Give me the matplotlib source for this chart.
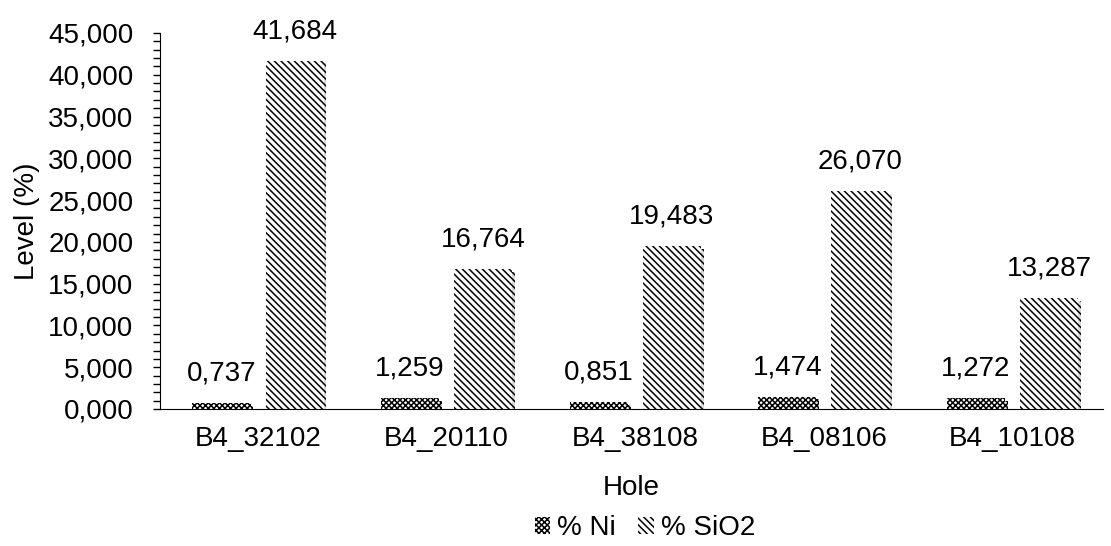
import matplotlib.pyplot as plt
import matplotlib.patheffects as pe
from matplotlib.patches import Patch
from matplotlib.ticker import FuncFormatter, MultipleLocator
import numpy as np

# grades per drill hole (percent)
holes = ['B4_32102', 'B4_20110', 'B4_38108', 'B4_08106', 'B4_10108']
ni = [0.737, 1.259, 0.851, 1.474, 1.272]
sio2 = [41.684, 16.764, 19.483, 26.070, 13.287]

plt.rcParams['font.family'] = ['Liberation Sans', 'DejaVu Sans']
plt.rcParams['hatch.linewidth'] = 1.1

fig = plt.figure(figsize=(11.11, 5.46), dpi=100)
ax = fig.add_axes([160 / 1111, 1 - 409 / 546, 943 / 1111, 376 / 546])


def comma(v, pos=None):
    return f'{v:.3f}'.replace('.', ',')


NI_HATCH = 'xxxxxx'
SI_HATCH = '\\' * 5

x = np.arange(len(holes))
w = 0.308
off = 0.194
shadow = [pe.SimplePatchShadow(offset=(2, -2), shadow_rgbFace='0.6', alpha=0.35), pe.Normal()]

b1 = ax.bar(x - off, ni, w, color='white', edgecolor='black', hatch=NI_HATCH, linewidth=0)
b2 = ax.bar(x + off, sio2, w, color='white', edgecolor='black', hatch=SI_HATCH, linewidth=0)
for b in list(b1) + list(b2):
    b.set_path_effects(shadow)

for bars, vals in ((b1, ni), (b2, sio2)):
    for b, v in zip(bars, vals):
        ax.annotate(comma(v), (b.get_x() + b.get_width() / 2, v),
                    xytext=(0, 12), textcoords='offset points',
                    ha='center', va='bottom', fontsize=20)

ax.set_xlim(-0.52, 4.48)
ax.set_ylim(0, 45)
ax.yaxis.set_major_locator(MultipleLocator(5))
ax.yaxis.set_minor_locator(MultipleLocator(1))
ax.yaxis.set_major_formatter(FuncFormatter(comma))
ax.tick_params(axis='y', which='both', length=5, width=1, labelsize=20, pad=14)
ax.tick_params(axis='x', length=0, labelsize=20, pad=12)
ax.set_xticks(x)
ax.set_xticklabels(holes)
for s in ('top', 'right'):
    ax.spines[s].set_visible(False)

ax.set_ylabel('Level (%)', fontsize=20, labelpad=6)
ax.set_xlabel('Hole', fontsize=20, labelpad=17)

handles = [Patch(facecolor='white', edgecolor='black', hatch=NI_HATCH, linewidth=0),
           Patch(facecolor='white', edgecolor='black', hatch=SI_HATCH, linewidth=0)]
fig.legend(handles, ['% Ni', '% SiO2'], loc='center', bbox_to_anchor=(645 / 1111, 1 - 528 / 546),
           ncol=2, frameon=False, fontsize=20, handlelength=0.55, handleheight=0.55,
           handletextpad=0.25, columnspacing=0.8, borderpad=0)

fig.savefig('out.png', dpi=100)
